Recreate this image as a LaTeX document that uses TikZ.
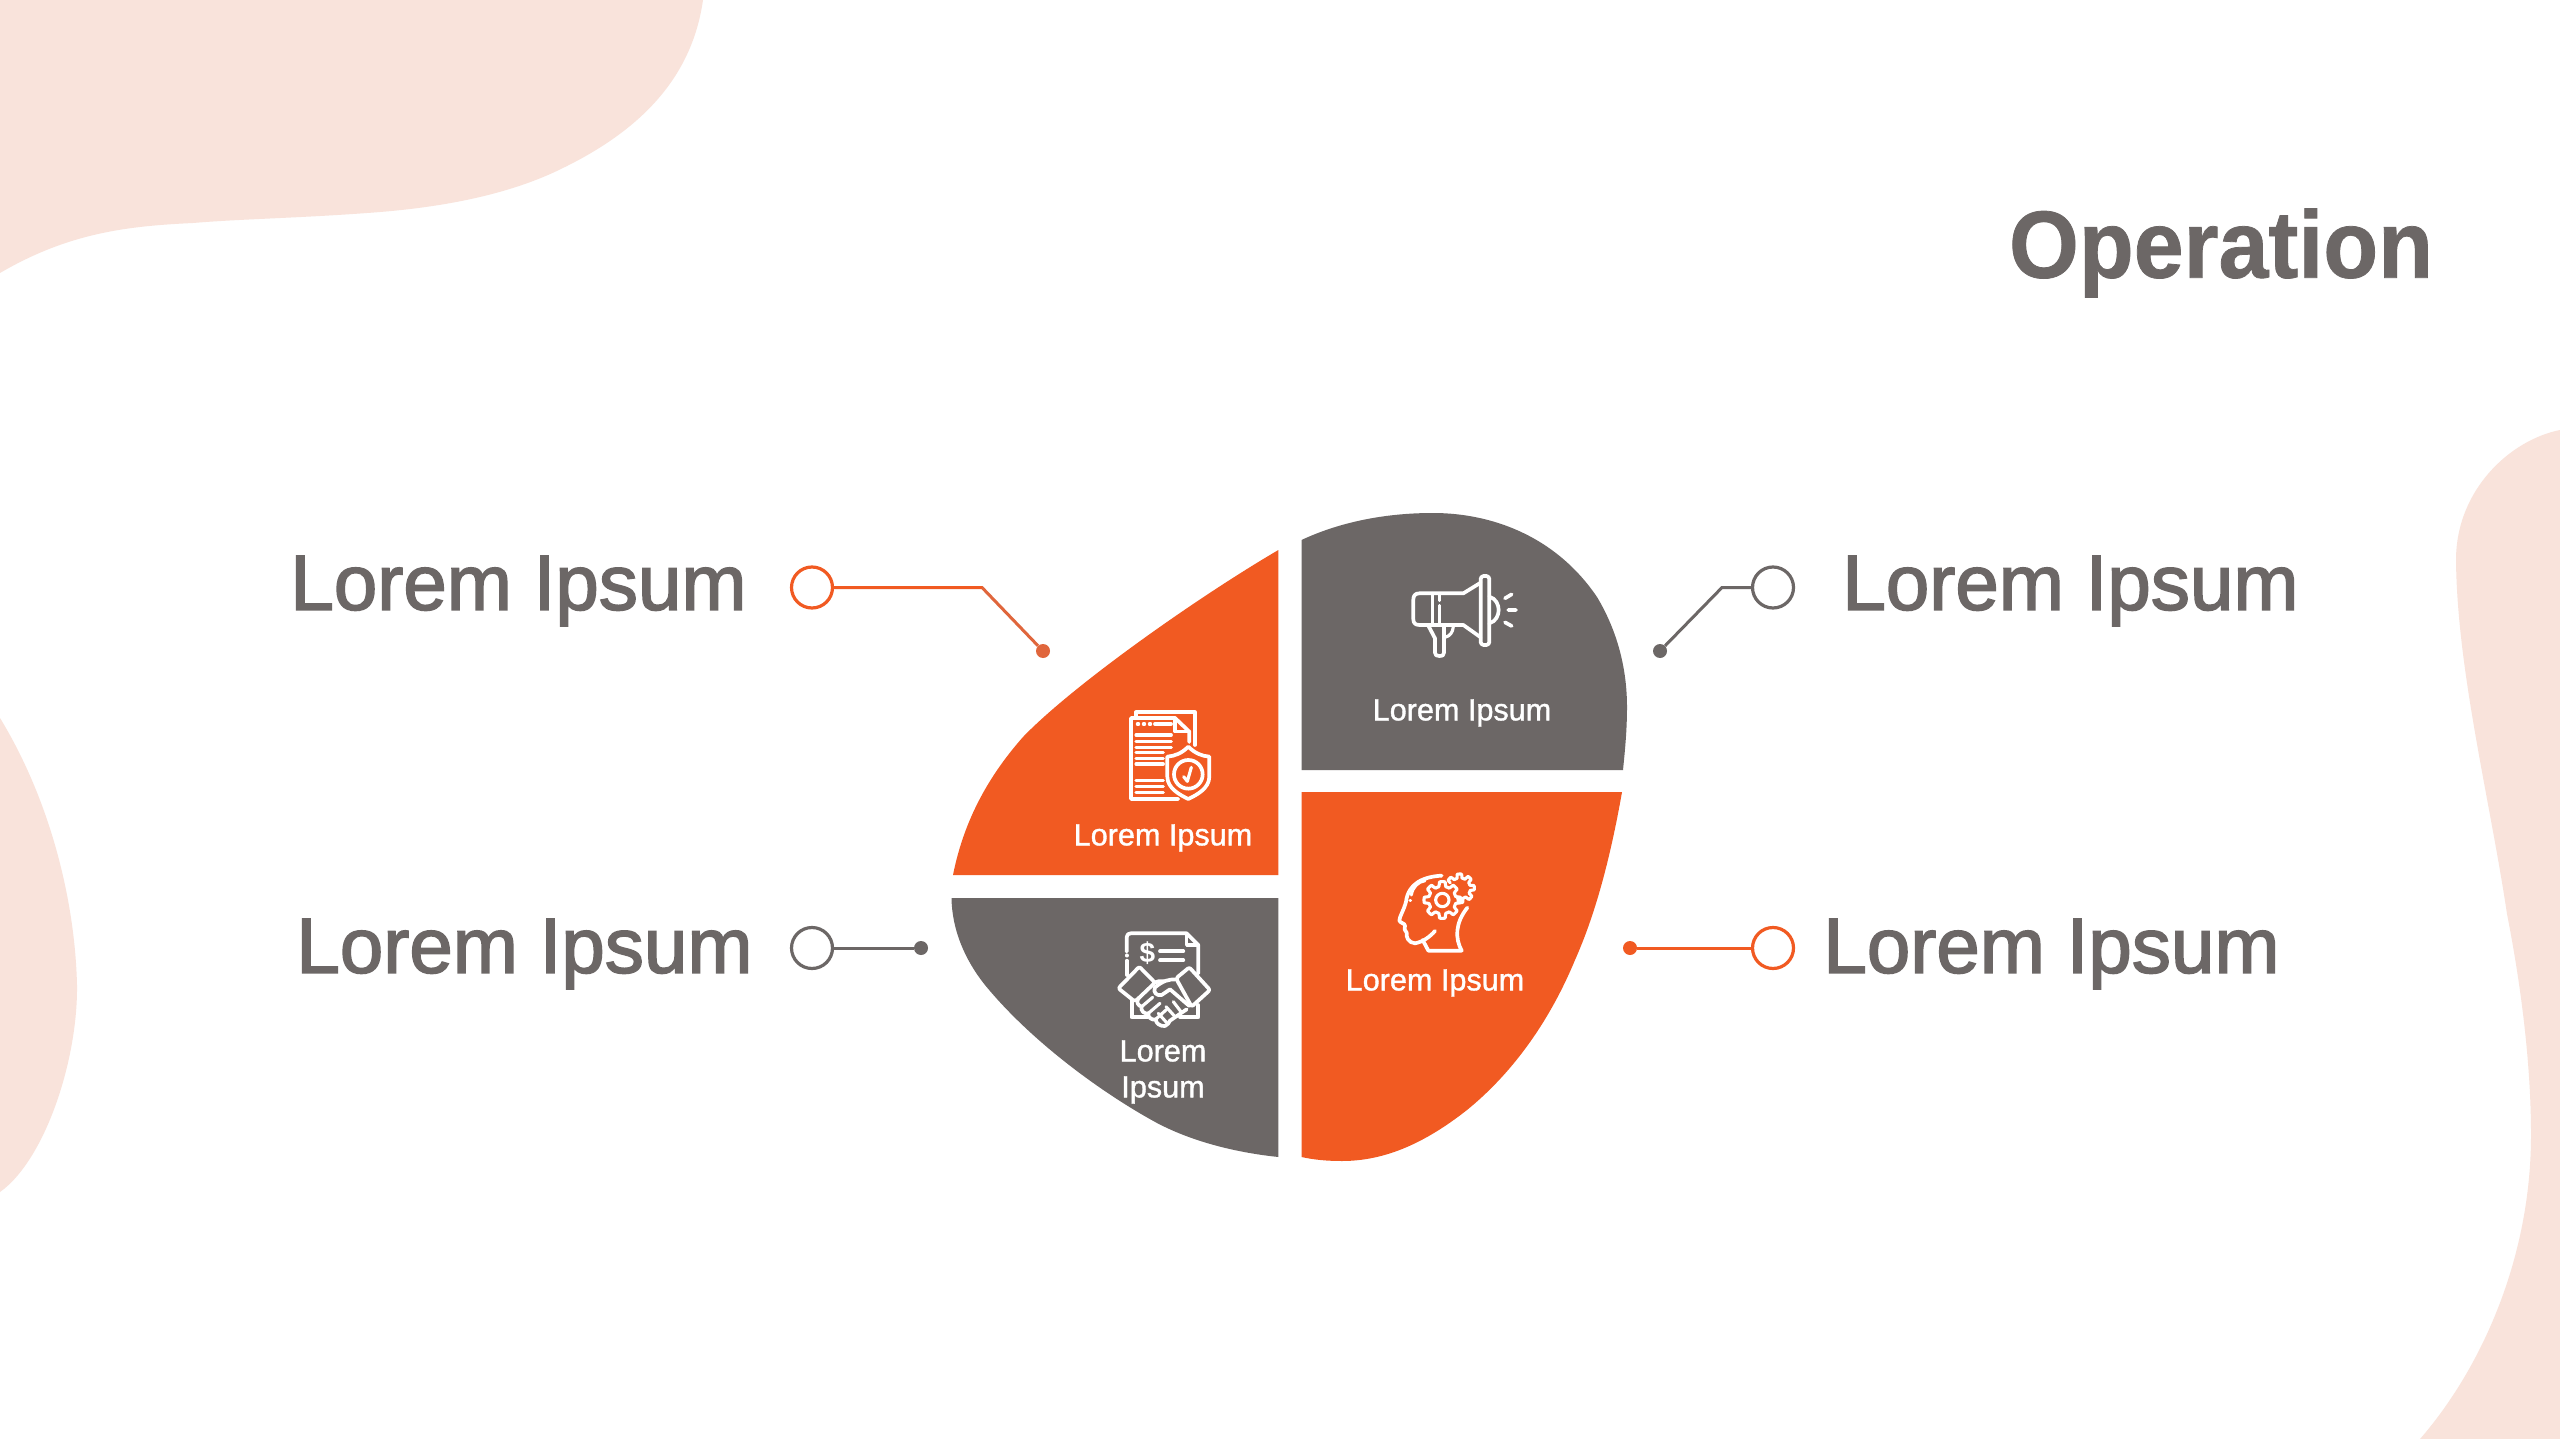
\documentclass[tikz,border=0pt]{standalone}
\usepackage{fontspec}
\setmainfont{Liberation Sans}
\newfontfamily\medfont[FakeBold=2]{Liberation Sans}
\newfontfamily\regfont[FakeBold=1.2]{Liberation Sans}
\newfontfamily\boldfont[FakeStretch=0.94,FakeBold=0.8]{Liberation Sans Bold}
\newfontfamily\plainbold{Liberation Sans Bold}
\definecolor{blush}{HTML}{F9E3DB}
\definecolor{brandorange}{HTML}{F15A22}
\definecolor{brandgray}{HTML}{6C6766}
\definecolor{dotorange}{HTML}{E0663C}
\tikzset{
  blob/.style={fill=blush},
  segorange/.style={fill=brandorange},
  seggray/.style={fill=brandgray},
  biglabel/.style={text=brandgray,inner sep=0pt,font=\medfont\fontsize{78.2}{80}\selectfont},
  seglabel/.style={text=white,inner sep=0pt,align=center,font=\regfont\fontsize{30.6}{36}\selectfont},
  ring/.style={circle,draw=#1,line width=3.2pt,fill=white,minimum size=41pt,inner sep=0pt},
  enddot/.style={circle,fill=#1,minimum size=14pt,inner sep=0pt},
  leader/.style={draw=#1,line width=3pt},
  icon/.style={draw=white,line width=3.7pt,line join=round,line cap=round},
  iconthin/.style={draw=white,line width=3.1pt,line join=round,line cap=round},
}
\begin{document}
\begin{tikzpicture}[x=1pt,y=-1pt]
\useasboundingbox (0,0) rectangle (2560,1439);
\fill[white] (0,0) rectangle (2560,1439);
% background blobs
\fill[blob] (703,0) .. controls (693,70) and (650,125) .. (565,167) .. controls (510,195) and (440,208) .. (367,213) .. controls (300,218) and (240,219) .. (193,223) .. controls (130,226) and (70,232) .. (0,273) -- (0,0) -- cycle;
\fill[blob] (0,718) .. controls (50,800) and (75,900) .. (77,985) .. controls (78,1060) and (45,1160) .. (0,1192) -- cycle;
\fill[blob] (2560,430) .. controls (2510,440) and (2456,490) .. (2456,560) .. controls (2457,670) and (2490,800) .. (2507,914) .. controls (2520,980) and (2531,1060) .. (2531,1135) .. controls (2531,1260) and (2480,1370) .. (2420,1439) -- (2560,1439) -- cycle;
% title
\node[text=brandgray,inner sep=0pt,font=\boldfont\fontsize{95.5}{96}\selectfont] (title) at (2221,253) {Operation};
% segments
\fill[segorange] (1278.4,550) -- (1278.4,875) -- (953,875) .. controls (963,825) and (985,780) .. (1023,737) .. controls (1073,685) and (1198,597) .. (1278.4,550) -- cycle;
\fill[seggray] (1301.5,540) .. controls (1340,522) and (1385,513) .. (1433,513) .. controls (1490,513) and (1555,535) .. (1597,597) .. controls (1618,632) and (1627,670) .. (1627,707) .. controls (1627,730) and (1625,750) .. (1623,770) -- (1301.5,770) -- cycle;
\fill[segorange] (1301.5,792) -- (1622,792) .. controls (1610,860) and (1595,915) .. (1575,960) .. controls (1548,1025) and (1510,1075) .. (1467,1110) .. controls (1425,1143) and (1385,1161) .. (1342,1161) .. controls (1328,1161) and (1315,1160) .. (1301.5,1157) -- cycle;
\fill[seggray] (1278.4,898) -- (951.5,898) .. controls (952,930) and (965,960) .. (985,985) .. controls (1030,1040) and (1100,1092) .. (1157,1123) .. controls (1195,1143) and (1240,1153) .. (1278.4,1157) -- cycle;
% segment labels
\node[seglabel] (ltl) at (1163,838) {Lorem Ipsum};
\node[seglabel] (ltr) at (1462,713) {Lorem Ipsum};
\node[seglabel] (lbr) at (1435,983) {Lorem Ipsum};
\node[seglabel] (lbl) at (1163,1072) {Lorem\\Ipsum};
% big labels
\node[biglabel] (tl) at (518.5,591) {Lorem Ipsum};
\node[biglabel] (bl) at (524.5,954) {Lorem Ipsum};
\node[biglabel] (tr) at (2070.5,591) {Lorem Ipsum};
\node[biglabel] (br) at (2051.5,954) {Lorem Ipsum};
% connectors
\node[ring=brandorange] (c1) at (812,587.5) {};
\coordinate (m1) at (982,587.5);
\node[enddot=dotorange] (d1) at (1043,651) {};
\draw[leader=dotorange] (c1) -- (m1) -- (d1);
\draw[leader=brandorange] (c1) -- (m1);
\node[ring=brandgray] (c2) at (1773,587.5) {};
\coordinate (m2) at (1722,587.5);
\node[enddot=brandgray] (d2) at (1660,651) {};
\draw[leader=brandgray] (c2) -- (m2) -- (d2);
\node[ring=brandgray] (c3) at (812,948) {};
\node[enddot=brandgray] (d3) at (921,948) {};
\draw[leader=brandgray] (c3) -- (d3);
\node[ring=brandorange] (c4) at (1773,948) {};
\node[enddot=brandorange] (d4) at (1630,948) {};
\draw[leader=brandorange] (c4) -- (d4);
% document + shield icon
\begin{scope}[xshift=1080pt,yshift=-680pt,x=.3333pt,y=-.3333pt]
\draw[icon] (168,112) -- (168,97) -- (345,97) -- (345,195);
\draw[icon] (295,357) -- (153,357) -- (153,114) -- (285,114) -- (328,155) -- (328,186);
\draw[iconthin] (285,114) -- (285,155) -- (328,155);
\draw[iconthin] (172,132) -- (176,132) (190,132) -- (194,132) (208,132) -- (212,132) (224,132) -- (274,132);
\foreach \yy in {165,185,202} \draw[iconthin] (168,\yy) -- (274,\yy);
\foreach \yy in {218,235,252,302,320,338} \draw[iconthin] (168,\yy) -- (250,\yy);
\draw[icon] (325,200) .. controls (305,220) and (285,228) .. (262,230) -- (262,290) .. controls (262,325) and (300,345) .. (325,357) .. controls (350,345) and (388,325) .. (388,290) -- (388,230) .. controls (365,228) and (345,220) .. (325,200) -- cycle;
\draw[icon] (325,283) circle (43);
\draw[iconthin] (311,290) -- (322,304) -- (334,262);
\end{scope}
% megaphone icon
\begin{scope}[xshift=1390pt,yshift=-560pt,x=.3333pt,y=-.3333pt]
\draw[icon] (272,68) -- (220,100) -- (88,100) .. controls (75,100) and (70,108) .. (70,118) -- (70,178) .. controls (70,188) and (75,195) .. (88,195) -- (220,195) -- (272,232);
\draw[icon,rounded corners=3pt] (272,48) rectangle (298,255);
\draw[icon] (298,110) .. controls (318,115) and (326,135) .. (326,150) .. controls (326,165) and (318,185) .. (298,190);
\draw[iconthin] (128,100) -- (128,195) (148,102) -- (148,122) (148,136) -- (148,195);
\draw[icon] (115,197) -- (135,235) -- (135,278) .. controls (135,286) and (140,288) .. (148,288) .. controls (158,288) and (162,285) .. (162,278) -- (162,197);
\draw[iconthin] (165,232) .. controls (180,228) and (188,218) .. (190,200);
\draw[icon] (345,115) -- (365,103) (355,150) -- (378,150) (345,187) -- (365,198);
\end{scope}
% head with gears icon
\begin{scope}[xshift=1380pt,yshift=-860pt,x=.3333pt,y=-.3333pt]
\draw[icon] (185,47) .. controls (130,50) and (85,70) .. (78,125) .. controls (72,150) and (58,170) .. (58,182) .. controls (62,190) and (75,190) .. (75,197) .. controls (70,205) and (75,212) .. (80,218) .. controls (78,232) and (85,248) .. (105,250) .. controls (130,245) and (150,230) .. (165,213);
\draw[iconthin] (94,105) .. controls (98,80) and (115,65) .. (135,62);
\draw[iconthin] (90,122) -- (92,122);
\draw[icon] (128,240) -- (145,272) -- (245,272) .. controls (225,235) and (225,190) .. (262,143);
\draw[iconthin,shift={(187,120)}] plot[domain=0:360,samples=121] (\x:{48+7*min(1,max(-1,3*cos(8*\x)))}) -- cycle;
\draw[iconthin] (187,120) circle (20);
\draw[iconthin,shift={(240,85)}] plot[domain=-150:105,samples=101] (\x:{37+6*min(1,max(-1,3*cos(8*\x+20)))});
\end{scope}
% handshake icon
\begin{scope}[xshift=1090pt,yshift=-910pt,x=.3333pt,y=-.3333pt]
\draw[icon] (110,125) -- (110,82) .. controls (110,74) and (115,70) .. (122,70) -- (290,70) -- (325,105) -- (325,190);
\draw[iconthin] (290,72) -- (290,105) -- (323,105);
\draw[icon] (110,136) -- (110,137) (110,152) -- (110,195);
\node[text=white,inner sep=0pt,font=\plainbold\fontsize{28}{28}\selectfont] (dollar) at (172,130) {\$};
\draw[icon] (210,124) -- (280,124) (210,151) -- (280,151);
\draw[icon,rounded corners=2pt] (148,170) -- (195,218) -- (135,275) -- (85,235) -- cycle;
\draw[icon,rounded corners=2pt] (298,172) -- (360,240) -- (305,290) -- (258,205) -- cycle;
\draw[icon] (125,272) -- (125,322) -- (172,322) (270,322) -- (325,322) -- (325,285);
\draw[icon] (258,208) .. controls (235,208) and (220,212) .. (195,232) .. controls (188,248) and (200,258) .. (215,255) -- (240,238) -- (298,288);
\draw[icon] (192,218) -- (205,214) -- (222,214);
\draw[icon] (148,262) .. controls (135,275) and (145,288) .. (155,290) .. controls (150,302) and (165,314) .. (175,310) .. controls (172,322) and (187,332) .. (197,328) .. controls (197,340) and (212,350) .. (225,348) .. controls (235,345) and (235,338) .. (240,332) -- (290,298);
\draw[iconthin] (155,290) -- (188,262) (175,310) -- (210,280) (197,328) -- (228,300) (230,338) -- (205,310) (255,320) -- (228,290) (275,308) -- (250,275);
\end{scope}
\end{tikzpicture}
\end{document}
